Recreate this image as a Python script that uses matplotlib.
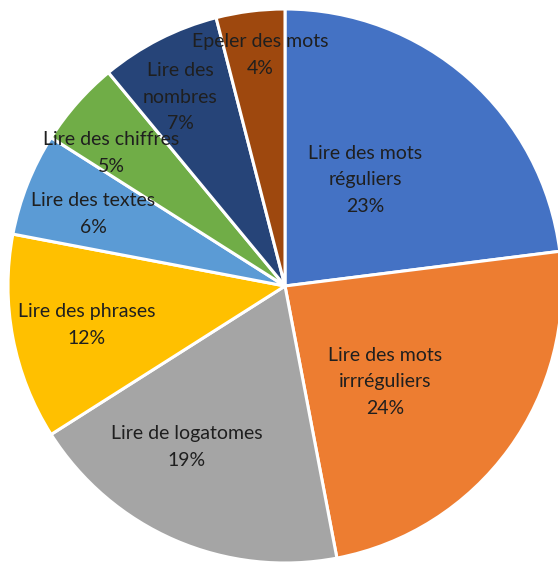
import numpy as np
import matplotlib.pyplot as plt

categories = ["Lire des mots\nréguliers", "Lire des mots\nirrréguliers", "Lire de logatomes",
              "Lire des phrases", "Lire des textes", "Lire des chiffres",
              "Lire des\nnombres", "Epeler des mots"]
shares = [23, 24, 19, 12, 6, 5, 7, 4]
colors = ["#4472C4", "#ED7D31", "#A5A5A5", "#FFC000", "#5B9BD5", "#70AD47", "#264478", "#9E480E"]

# label placement: distance from centre (fraction of radius) and angular nudge (deg)
label_r = [0.48, 0.50, 0.68, 0.73, 0.74, 0.79, 0.78, 0.84]
label_da = [4.4, -7.8, -8, 0.3, 1, 4, 2, -1]

plt.rcParams['font.family'] = ['Lato', 'DejaVu Sans']

fig = plt.figure(figsize=(5.58, 5.62), dpi=100)
ax = fig.add_axes([0, 0, 1, 1])

wedges, _ = ax.pie(shares, colors=colors, startangle=90, counterclock=False,
                   radius=1, wedgeprops=dict(edgecolor="white", linewidth=2.2))

for w, lab, val, r, da in zip(wedges, categories, shares, label_r, label_da):
    ang = np.deg2rad((w.theta1 + w.theta2) / 2 + da)
    ax.text(r * np.cos(ang), r * np.sin(ang), f"{lab}\n{val}%", ha="center", va="center",
            fontsize=14, color="#1f1f1f", linespacing=1.7)

# pie centre sits at (285, 286) px with a radius of 277 px
ax.set_aspect("auto")
ax.set_xlim(-285 / 277, (558 - 285) / 277)
ax.set_ylim(-(562 - 286) / 277, 286 / 277)
ax.axis("off")

fig.savefig("out.png", dpi=100)
